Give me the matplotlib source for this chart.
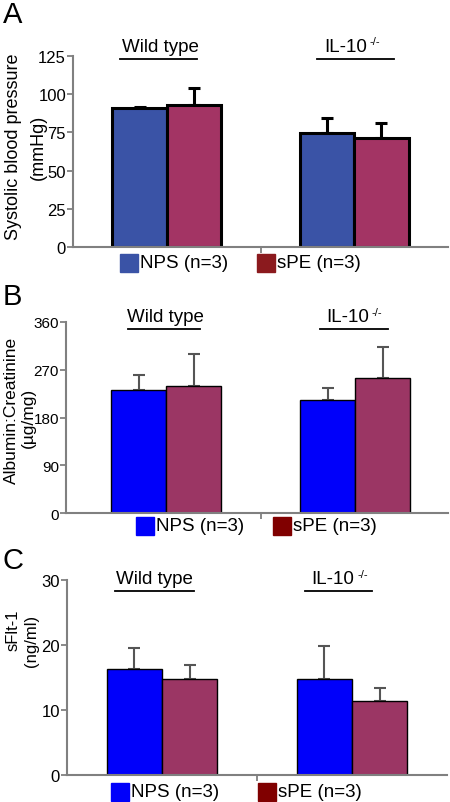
import numpy as np
import matplotlib
matplotlib.use('Agg')
import matplotlib.pyplot as plt

plt.rcParams['font.family'] = ['Liberation Sans', 'DejaVu Sans']

# data
groups = ['Wild type', 'IL-10']
series = ['NPS (n=3)', 'sPE (n=3)']

sbp_nps = [90.8, 74.6]
sbp_nps_err = [0.8, 10.0]
sbp_spe = [93.0, 71.1]
sbp_spe_err = [11.0, 10.0]

alb_nps = [231, 212]
alb_nps_err = [28, 24]
alb_spe = [240, 254]
alb_spe_err = [60, 59]

sflt_nps = [16.3, 14.7]
sflt_nps_err = [3.2, 5.1]
sflt_spe = [14.7, 11.3]
sflt_spe_err = [2.2, 2.1]

W, H = 450, 803
fig = plt.figure(figsize=(4.5, 8.03), dpi=100)


def px_axes(left, right, top, bottom):
    return fig.add_axes([left / W, 1 - bottom / H, (right - left) / W, (bottom - top) / H])


def fig_text(x, y, s, **kw):
    fig.text(x / W, 1 - y / H, s, **kw)


def fig_line(x0, x1, y):
    fig.add_artist(plt.Line2D([x0 / W, x1 / W], [1 - y / H, 1 - y / H],
                              color='black', linewidth=1.3))


def panel(ax, nps, nps_err, spe, spe_err, ylim, yticks,
          c_nps, c_spe, edge_w, err_col, err_w, xlim, tick_fs):
    x = np.arange(len(groups))
    w = 0.29
    ax.bar(x - w / 2, nps, w, color=c_nps, edgecolor='black', linewidth=edge_w, zorder=2)
    ax.bar(x + w / 2, spe, w, color=c_spe, edgecolor='black', linewidth=edge_w, zorder=2)
    ax.errorbar(x - w / 2, nps, yerr=[np.zeros(2), nps_err], fmt='none',
                ecolor=err_col, elinewidth=err_w, capsize=4, capthick=err_w, zorder=1)
    ax.errorbar(x + w / 2, spe, yerr=[np.zeros(2), spe_err], fmt='none',
                ecolor=err_col, elinewidth=err_w, capsize=4, capthick=err_w, zorder=1)
    ax.set_xlim(*xlim)
    ax.set_ylim(*ylim)
    ax.set_yticks(yticks)
    ax.set_xticks([0.5])
    ax.set_xticklabels([])
    for s in ['top', 'right']:
        ax.spines[s].set_visible(False)
    for s in ['left', 'bottom']:
        ax.spines[s].set_color('#808080')
        ax.spines[s].set_linewidth(1.5)
    ax.tick_params(axis='both', colors='#808080', length=4, width=1.3,
                   labelsize=tick_fs, labelcolor='black', pad=1)


# panel A
axA = px_axes(73, 448, 57, 248)
panel(axA, sbp_nps, sbp_nps_err, sbp_spe, sbp_spe_err, (0, 125), [0, 25, 50, 75, 100, 125],
      '#3a53a6', '#a33464', 2.2, 'black', 2.2, (-0.5, 1.5), 12)

# panel B
axB = px_axes(66, 448, 322.7, 514.3)
panel(axB, alb_nps, alb_nps_err, alb_spe, alb_spe_err, (0, 360), [0, 90, 180, 270, 360],
      '#0000fa', '#9b3664', 1.0, '#555555', 1.5, (-0.53, 1.49), 11)

# panel C
axC = px_axes(67, 447, 580.7, 776)
panel(axC, sflt_nps, sflt_nps_err, sflt_spe, sflt_spe_err, (0, 30), [0, 10, 20, 30],
      '#0000fa', '#9b3664', 1.0, '#555555', 1.5, (-0.5, 1.5), 12)

# y axis labels (two lines each): text1, text2, x1, x2, y1, y2, size
ylabels = [
    ('Systolic blood pressure', '(mmHg)', 14, 38, 147, 147, 13),
    ('Albumin:Creatinine', '(µg/mg)', 11, 28, 410, 418, 12.5),
    ('sFlt-1', '(ng/ml)', 13, 32, 630, 641, 12),
]
for l1, l2, x1, x2, y1, y2, fs in ylabels:
    fig_text(x1, y1, l1, rotation=90, fontsize=fs, ha='center', va='center')
    fig_text(x2, y2, l2, rotation=90, fontsize=fs, ha='center', va='center')

# panel letters
fig_text(3, 15, 'A', fontsize=21, va='center', ha='left')
fig_text(3, 297, 'B', fontsize=21, va='center', ha='left')
fig_text(3, 561, 'C', fontsize=21, va='center', ha='left')

# group headers with underline
headers = [
    (47, 60, (160, 120, 197), (350, 317, 394)),
    (318, 330, (165, 128, 200), (352, 320, 388)),
    (580, 592, (154, 115, 194), (337, 305, 372)),
]
for ty, ly, wt, il in headers:
    fig_text(wt[0], ty, groups[0], fontsize=13.5, ha='center', va='center')
    fig_line(wt[1], wt[2], ly)
    fig_text(il[0] - 4, ty, groups[1], fontsize=13.5, ha='center', va='center')
    fig_text(il[0] + 20, ty - 5, '-/-', fontsize=8, ha='left', va='center')
    fig_line(il[1], il[2], ly)

# legends drawn as patches + text
legend_rows = [
    (264, 120, 257, '#3a53a6', '#8b1a1e'),
    (527, 136, 273, '#0000fa', '#800000'),
    (793, 111, 258, '#0000fa', '#800000'),
]
for y, x1, x2, c1, c2 in legend_rows:
    for xx, cc, lab in [(x1, c1, series[0]), (x2, c2, series[1])]:
        fig.add_artist(plt.Rectangle((xx / W, 1 - (y + 9) / H), 18 / W, 18 / H,
                                     color=cc, transform=fig.transFigure))
        fig_text(xx + 20, y, lab, fontsize=13.5, ha='left', va='center')

fig.savefig('out.png', dpi=100)
